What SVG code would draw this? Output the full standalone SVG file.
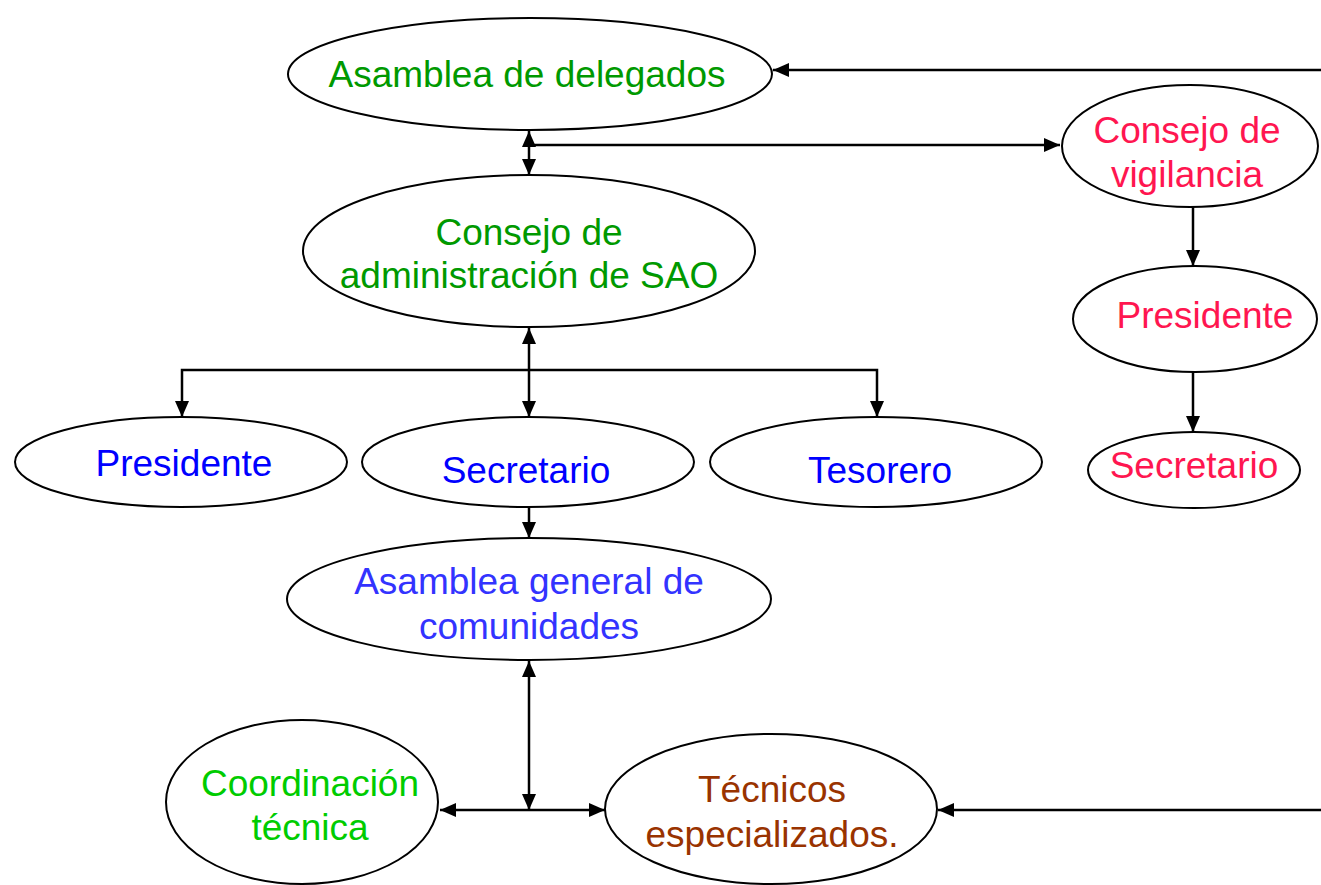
<svg xmlns="http://www.w3.org/2000/svg" width="1321" height="885" viewBox="0 0 1321 885">
<style>
.n{fill:#fff;stroke:#000;stroke-width:2}
.t{font-family:"Liberation Sans",Arial,sans-serif;font-size:37px;text-anchor:middle}
.c{fill:none;stroke:#000;stroke-width:2.5}
.g{fill:#009900}.b{fill:#0000FF}.lb{fill:#3333FF}.lg{fill:#00CC00}.br{fill:#993300}.r{fill:#FF1650}
</style>
<defs>
<marker id="ah" markerUnits="userSpaceOnUse" markerWidth="16" markerHeight="14" refX="16" refY="7" orient="auto-start-reverse">
<path d="M0,0 L16,7 L0,14 Z" fill="#000"/>
</marker>
</defs>
<rect width="1321" height="885" fill="#fff"/>
<g id="connectors">
<line class="c" x1="1321" y1="70" x2="773" y2="70" marker-end="url(#ah)"/>
<line class="c" x1="529" y1="131" x2="529" y2="175" marker-start="url(#ah)" marker-end="url(#ah)"/>
<line class="c" x1="529" y1="145" x2="1060" y2="145" marker-end="url(#ah)"/>
<line class="c" x1="1193" y1="207" x2="1193" y2="266" marker-end="url(#ah)"/>
<line class="c" x1="1193" y1="372" x2="1193" y2="432" marker-end="url(#ah)"/>
<line class="c" x1="529" y1="328" x2="529" y2="417" marker-start="url(#ah)" marker-end="url(#ah)"/>
<polyline class="c" points="182,417 182,370 877,370 877,417" marker-start="url(#ah)" marker-end="url(#ah)"/>
<line class="c" x1="529" y1="508" x2="529" y2="538" marker-end="url(#ah)"/>
<line class="c" x1="529" y1="661" x2="529" y2="810" marker-start="url(#ah)" marker-end="url(#ah)"/>
<line class="c" x1="440" y1="810" x2="605" y2="810" marker-start="url(#ah)" marker-end="url(#ah)"/>
<line class="c" x1="1321" y1="810" x2="938" y2="810" marker-end="url(#ah)"/>
</g>
<g id="asamblea-delegados">
<ellipse class="n" cx="530" cy="74" rx="242" ry="56"/>
<text class="t g" x="527" y="87">Asamblea de delegados</text>
</g>
<g id="consejo-vigilancia">
<ellipse class="n" cx="1190" cy="146" rx="128" ry="61"/>
<text class="t r" x="1187" y="143">Consejo de</text>
<text class="t r" x="1187" y="187">vigilancia</text>
</g>
<g id="consejo-admin">
<ellipse class="n" cx="529" cy="251" rx="226" ry="76"/>
<text class="t g" x="529" y="245">Consejo de</text>
<text class="t g" x="529" y="288">administración de SAO</text>
</g>
<g id="presidente-vig">
<ellipse class="n" cx="1195" cy="319" rx="122" ry="53"/>
<text class="t r" x="1205" y="328">Presidente</text>
</g>
<g id="secretario-vig">
<ellipse class="n" cx="1194" cy="470" rx="106" ry="38"/>
<text class="t r" x="1194" y="478">Secretario</text>
</g>
<g id="presidente">
<ellipse class="n" cx="181" cy="462" rx="166" ry="45"/>
<text class="t b" x="184" y="476">Presidente</text>
</g>
<g id="secretario">
<ellipse class="n" cx="528" cy="462" rx="166" ry="45"/>
<text class="t b" x="526" y="483">Secretario</text>
</g>
<g id="tesorero">
<ellipse class="n" cx="876" cy="462" rx="166" ry="45"/>
<text class="t b" x="880" y="483">Tesorero</text>
</g>
<g id="asamblea-general">
<ellipse class="n" cx="529" cy="599" rx="242" ry="61"/>
<text class="t lb" x="529" y="594">Asamblea general de</text>
<text class="t lb" x="529" y="639">comunidades</text>
</g>
<g id="coordinacion">
<ellipse class="n" cx="302" cy="802" rx="136" ry="82"/>
<text class="t lg" x="310" y="796">Coordinación</text>
<text class="t lg" x="310" y="840">técnica</text>
</g>
<g id="tecnicos">
<ellipse class="n" cx="771" cy="809" rx="166" ry="75"/>
<text class="t br" x="772" y="802">Técnicos</text>
<text class="t br" x="772" y="847">especializados.</text>
</g>
</svg>
